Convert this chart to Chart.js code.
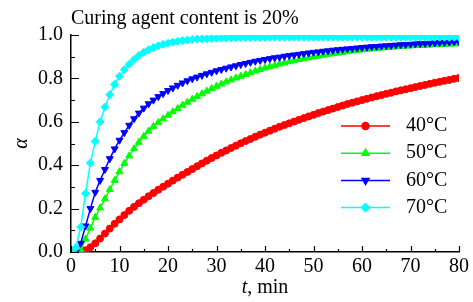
<!DOCTYPE html>
<html lang="en">
<head>
  <meta charset="UTF-8" />
  <title>Curing degree vs time</title>
  <script src="https://cdn.jsdelivr.net/npm/chart.js"></script>
  <style>
    body { margin: 0; background: #fff; }
    #wrap { width: 473px; height: 302px; }
  </style>
</head>
<body>

<div id="wrap"><canvas id="cureChart"></canvas></div>

<script>
  // time, min (one reading per minute)
  const times = [0,1,2,3,4,5,6,7,8,9,10,11,12,13,14,15,16,17,18,19,20,21,22,23,24,25,26,27,28,29,30,
    31,32,33,34,35,36,37,38,39,40,41,42,43,44,45,46,47,48,49,50,51,52,53,54,55,56,57,58,59,60,
    61,62,63,64,65,66,67,68,69,70,71,72,73,74,75,76,77,78,79,80];

  // degree of cure alpha
  const alpha40 = [null,null,0,0.008,0.022,0.04,0.062,0.085,0.108,0.13,0.15,0.17,0.19,0.208,0.225,0.241,0.257,0.272,0.287,0.301,0.315,
    0.329,0.343,0.356,0.369,0.382,0.395,0.408,0.421,0.433,0.445,0.457,0.468,0.479,0.49,0.501,0.511,0.521,0.531,0.541,0.55,
    0.559,0.568,0.577,0.585,0.593,0.601,0.609,0.617,0.625,0.632,0.64,0.647,0.654,0.661,0.668,0.675,0.682,0.688,0.694,0.70,
    0.706,0.712,0.718,0.723,0.729,0.734,0.74,0.745,0.75,0.755,0.76,0.765,0.77,0.775,0.78,0.784,0.789,0.793,0.798,0.802];
  const alpha50 = [null,0,0.01,0.06,0.11,0.16,0.203,0.245,0.288,0.33,0.37,0.408,0.443,0.476,0.506,0.533,0.557,0.579,0.597,0.614,0.63,
    0.646,0.661,0.676,0.69,0.704,0.717,0.729,0.741,0.753,0.764,0.774,0.784,0.793,0.802,0.81,0.818,0.826,0.834,0.841,0.848,
    0.854,0.86,0.866,0.872,0.877,0.882,0.887,0.891,0.895,0.899,0.903,0.907,0.911,0.914,0.917,0.92,0.923,0.926,0.929,0.932,
    0.934,0.936,0.938,0.94,0.942,0.944,0.946,0.947,0.949,0.95,0.951,0.952,0.953,0.954,0.955,0.956,0.957,0.958,0.959,0.96];
  const alpha60 = [null,0,0.04,0.12,0.2,0.275,0.33,0.38,0.43,0.475,0.515,0.55,0.584,0.614,0.64,0.663,0.683,0.70,0.716,0.73,0.744,
    0.756,0.768,0.779,0.789,0.798,0.806,0.814,0.821,0.828,0.835,0.841,0.847,0.853,0.858,0.864,0.869,0.874,0.879,0.883,0.887,
    0.891,0.895,0.898,0.902,0.905,0.908,0.911,0.914,0.917,0.92,0.922,0.925,0.927,0.93,0.932,0.934,0.936,0.938,0.94,0.942,
    0.944,0.946,0.947,0.949,0.95,0.952,0.953,0.955,0.956,0.957,0.959,0.96,0.961,0.962,0.963,0.965,0.966,0.967,0.968,0.969];
  const alpha70 = [0,0.02,0.115,0.27,0.41,0.51,0.60,0.667,0.725,0.772,0.81,0.84,0.865,0.887,0.905,0.92,0.932,0.942,0.95,0.957,0.962,
    0.967,0.971,0.974,0.977,0.979,0.981,0.982,0.983,0.984,0.985,0.986,0.986,0.987,0.987,0.988,0.988,0.988,0.989,0.989,0.989,
    0.99,0.99,0.99,0.99,0.99,0.99,0.99,0.99,0.99,0.99,0.99,0.99,0.99,0.99,0.99,0.99,0.99,0.99,0.99,0.99,
    0.99,0.99,0.99,0.99,0.99,0.99,0.99,0.99,0.99,0.99,0.99,0.99,0.99,0.99,0.99,0.99,0.99,0.99,0.99,0.99];

  const seriesNames = ['40°C', '50°C', '60°C', '70°C'];
  const xTicks = [0, 10, 20, 30, 40, 50, 60, 70, 80];
  const yTicks = [0.0, 0.2, 0.4, 0.6, 0.8, 1.0];

  const FONT = 'Liberation Serif, Times New Roman, serif';

  function pts(values) {
    return times.map((t, i) => ({ x: t, y: values[i] }));
  }

  function series(label, values, color, style, rot, r, order) {
    return {
      label: label,
      data: pts(values),
      borderColor: color,
      backgroundColor: color,
      borderWidth: 1.5,
      pointStyle: style,
      rotation: rot,
      pointRadius: r,
      pointBorderWidth: 1,
      tension: 0,
      order: order
    };
  }

  // inward tick marks on both axes
  const innerTicks = {
    id: 'innerTicks',
    afterDatasetsDraw(chart) {
      const { ctx, scales: { x, y } } = chart;
      ctx.save();
      ctx.strokeStyle = '#000';
      ctx.lineWidth = 1.2;
      ctx.beginPath();
      for (let v = 0; v <= 80; v += 5) {
        const px = Math.round(x.getPixelForValue(v)) + 0.5;
        const len = v % 10 === 0 ? 6 : 3;
        ctx.moveTo(px, y.bottom);
        ctx.lineTo(px, y.bottom - len);
      }
      for (let k = 0; k <= 10; k++) {
        const py = Math.round(y.getPixelForValue(k / 10)) + 0.5;
        const len = k % 2 === 0 ? 8 : 4;
        ctx.moveTo(x.left, py);
        ctx.lineTo(x.left + len, py);
      }
      ctx.stroke();
      ctx.restore();
    }
  };

  // legend inside the plot, line + marker
  const innerLegend = {
    id: 'innerLegend',
    afterDraw(chart) {
      const ctx = chart.ctx;
      const area = chart.chartArea;
      const x0 = area.right - 118, x1 = area.right - 69, tx = area.right - 53;
      ctx.save();
      chart.data.datasets.forEach((ds, i) => {
        const yy = 126 + i * 27.2;
        ctx.strokeStyle = ds.borderColor;
        ctx.lineWidth = 1.5;
        ctx.beginPath();
        ctx.moveTo(x0, yy);
        ctx.lineTo(x1, yy);
        ctx.stroke();
        ctx.fillStyle = ds.backgroundColor;
        Chart.helpers.drawPoint(ctx, {
          pointStyle: ds.pointStyle, radius: ds.pointRadius, rotation: ds.rotation, borderWidth: 1
        }, (x0 + x1) / 2, yy);
        ctx.fillStyle = '#000';
        ctx.font = '20px ' + FONT;
        ctx.textAlign = 'left';
        ctx.textBaseline = 'middle';
        ctx.fillText(ds.label, tx, yy);
      });
      ctx.restore();
    }
  };

  // x title with italic t
  const xTitle = {
    id: 'xTitle',
    afterDraw(chart) {
      const ctx = chart.ctx;
      const area = chart.chartArea;
      ctx.save();
      ctx.fillStyle = '#000';
      ctx.textBaseline = 'middle';
      ctx.textAlign = 'left';
      const a = 't', b = ', min';
      ctx.font = 'italic 20px ' + FONT;
      const wa = ctx.measureText(a).width;
      ctx.font = '20px ' + FONT;
      const wb = ctx.measureText(b).width;
      const cx = (area.left + area.right) / 2;
      const left = cx - (wa + wb) / 2;
      const yy = 288;
      ctx.font = 'italic 20px ' + FONT;
      ctx.fillText(a, left, yy);
      ctx.font = '20px ' + FONT;
      ctx.fillText(b, left + wa, yy);
      ctx.restore();
    }
  };

  const ctx = document.getElementById('cureChart').getContext('2d');
  const cureChart = new Chart(ctx, {
    type: 'line',
    data: {
      datasets: [
        series(seriesNames[0], alpha40, '#ff0000', 'circle', 0, 3.5, 3),
        series(seriesNames[1], alpha50, '#00ff00', 'triangle', 0, 4, 2),
        series(seriesNames[2], alpha60, '#0000ff', 'triangle', 180, 4, 1),
        series(seriesNames[3], alpha70, '#00ffff', 'rectRot', 0, 4, 0)
      ]
    },
    options: {
      responsive: true,
      maintainAspectRatio: false,
      animation: false,
      layout: { padding: { left: 0, right: 14, top: 0, bottom: 0 } },
      plugins: {
        legend: { display: false },
        tooltip: { enabled: false },
        title: {
          display: true,
          text: 'Curing agent content is 20%',
          align: 'start',
          fullSize: false,
          color: '#000',
          font: { family: FONT, size: 20, weight: 'normal' },
          padding: { top: 7, bottom: 4 }
        }
      },
      scales: {
        x: {
          type: 'linear',
          min: 0,
          max: 80,
          afterBuildTicks(scale) { scale.ticks = xTicks.map(v => ({ value: v })); },
          grid: { display: false, drawTicks: false },
          border: { display: true, color: '#000', width: 1.5 },
          ticks: { color: '#000', padding: 3, font: { family: FONT, size: 20 } },
          afterFit(scale) { scale.height = 50; }
        },
        y: {
          min: 0,
          max: 1,
          afterBuildTicks(scale) { scale.ticks = yTicks.map(v => ({ value: v })); },
          grid: { display: false, drawTicks: false },
          border: { display: true, color: '#000', width: 1.5 },
          ticks: {
            color: '#000', padding: 8, font: { family: FONT, size: 20 },
            callback: v => Number(v).toFixed(1)
          },
          title: {
            display: true,
            text: 'α',
            color: '#000',
            padding: { top: 10, bottom: 0 },
            font: { family: FONT, size: 20, style: 'italic' }
          },
          afterFit(scale) { scale.width = 71; }
        }
      }
    },
    plugins: [innerTicks, innerLegend, xTitle]
  });
</script>

</body>
</html>
